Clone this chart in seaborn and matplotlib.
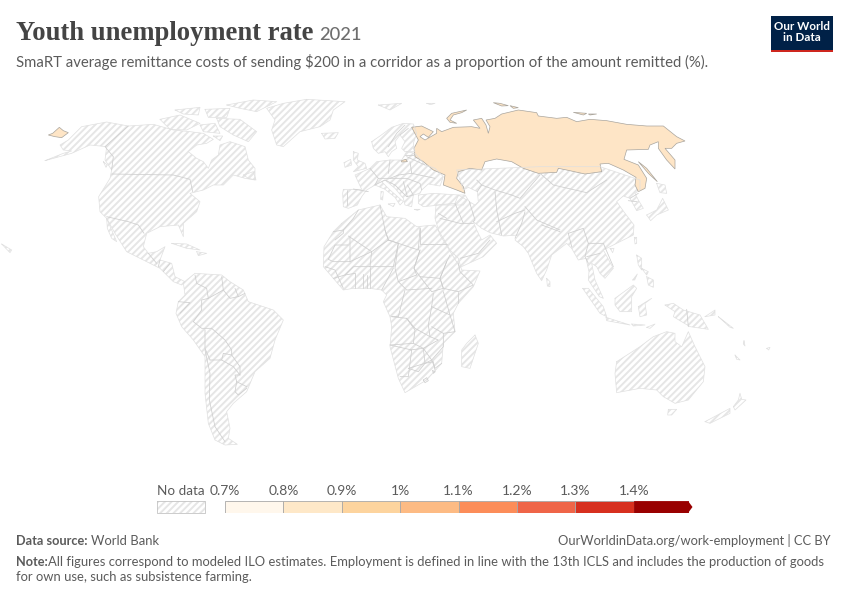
import matplotlib
matplotlib.use("Agg")
import matplotlib.pyplot as plt
import seaborn as sns

# legend scale (last edge is where the open-ended bin's body stops, before its arrow tip)
bin_edges = [0.7, 0.8, 0.9, 1.0, 1.1, 1.2, 1.3, 1.4, 1.493]
bin_colors = ["#fff7ec", "#fee8c8", "#fdd49e", "#fdbb84", "#fc8d59", "#ef6548", "#d7301f", "#990000"]
tick_labels = ["0.7%", "0.8%", "0.9%", "1%", "1.1%", "1.2%", "1.3%", "1.4%"]

ORIGIN_NA = (0, 90)
north_america = [(135, 212), (190, 190), (215, 183), (190, 180), (180, 165), (205, 150), (225, 130), (245, 110),
                 (320, 96), (385, 108), (460, 103), (520, 120), (570, 125), (610, 130), (640, 148), (620, 160),
                 (590, 165), (565, 185), (590, 205), (610, 215), (625, 235), (635, 210), (655, 195), (660, 165),
                 (690, 155), (735, 170), (745, 210), (765, 235), (765, 270), (735, 265), (700, 255), (670, 285),
                 (640, 285), (610, 300), (570, 310), (600, 335), (590, 365), (550, 400), (550, 440), (535, 405),
                 (480, 410), (440, 430), (430, 470), (445, 490), (470, 485), (495, 470), (480, 510), (515, 520),
                 (525, 560), (555, 575), (545, 585), (520, 575), (480, 535), (440, 515), (380, 485), (345, 430),
                 (320, 385), (300, 365), (296, 320), (330, 265), (335, 240), (315, 210), (320, 170), (270, 165),
                 (215, 190)]
baja = [(320, 385), (335, 420), (350, 455), (335, 445), (322, 415)]
greenland = [(920, 28), (1035, 35), (1000, 60), (990, 90), (960, 110), (900, 125), (850, 170), (830, 165),
             (815, 120), (825, 90), (800, 55), (850, 40)]
ellesmere = [(680, 45), (760, 30), (830, 35), (790, 55), (770, 65), (720, 55)]
baffin = [(650, 85), (720, 88), (770, 125), (745, 155), (700, 135), (660, 110)]
victoria = [(480, 88), (540, 75), (600, 100), (560, 120), (510, 118)]
banks = [(525, 60), (600, 52), (595, 75), (550, 72)]
devon = [(615, 58), (690, 55), (680, 82), (625, 82)]
somerset = [(600, 105), (645, 100), (660, 130), (610, 125)]
southampton = [(640, 138), (668, 138), (660, 152)]
newfoundland = [(730, 255), (760, 245), (768, 270), (745, 265)]
iceland = [(965, 130), (1015, 128), (1005, 145), (975, 147)]
svalbard = [(1135, 45), (1205, 40), (1170, 60)]
cuba = [(515, 460), (560, 462), (600, 480), (560, 475)]
hispaniola = [(590, 485), (620, 490), (595, 497)]
vancouver = [(310, 215), (322, 225), (318, 232)]
hawaii = [(5, 462), (35, 480), (30, 488)]
na_borders = [
    [(335, 252), (520, 255), (570, 268), (578, 305)],
    [(385, 108), (315, 170), (340, 200), (335, 240)],
    [(320, 380), (385, 395), (415, 405), (432, 430)],
    [(445, 490), (470, 520)], [(480, 510), (475, 530)], [(510, 520), (490, 545)],
]
chukotka_tip = [(145, 135), (158, 130), (178, 112), (190, 122), (205, 128), (185, 143), (165, 140)]
kaliningrad_z1 = [(1203, 212), (1218, 208), (1222, 215), (1205, 216)]

ORIGIN_SA = (150, 260)
south_america = [(100, 68), (135, 40), (215, 45), (240, 65), (280, 90), (295, 125), (370, 150), (400, 180),
                 (375, 240), (360, 295), (315, 335), (290, 395), (250, 430), (230, 455), (240, 505), (235, 535),
                 (262, 553), (225, 555), (195, 540), (175, 490), (165, 400), (165, 290), (130, 240), (95, 200),
                 (78, 160), (85, 125), (105, 105)]
sa_borders = [
    [(135, 45), (140, 70), (170, 85), (175, 115), (155, 120), (155, 150)],
    [(85, 125), (120, 128), (90, 160)],
    [(155, 150), (130, 185), (155, 205), (185, 205), (225, 240), (245, 270), (245, 285), (270, 320), (270, 345),
     (255, 345), (260, 365), (290, 380)],
    [(215, 50), (220, 90), (175, 115)],
    [(220, 90), (240, 115), (265, 110), (255, 85)], [(265, 110), (285, 100)],
    [(165, 210), (165, 265), (180, 300)],
    [(180, 300), (215, 300), (220, 280), (245, 285)],
    [(215, 300), (250, 320), (270, 345)],
    [(165, 270), (180, 340), (178, 420), (195, 500), (225, 545)],
    [(260, 365), (255, 395), (265, 405), (290, 385)],
]

ORIGIN_EU = (320, 110)
scandinavia = [(155, 95), (180, 78), (215, 52), (250, 40), (280, 42), (290, 70), (280, 100), (285, 125), (255, 125),
               (245, 115), (255, 95), (240, 75), (225, 95), (230, 115), (215, 125), (205, 140), (195, 125),
               (175, 130), (160, 115)]
great_britain = [(100, 125), (115, 130), (112, 150), (135, 160), (140, 175), (100, 185), (115, 170), (100, 150)]
ireland = [(72, 158), (92, 148), (95, 165), (75, 172)]
europe = [(70, 238), (125, 238), (105, 195), (150, 175), (170, 155), (210, 150), (245, 150), (260, 125), (285, 130),
          (315, 165), (345, 175), (370, 200), (360, 228), (325, 222), (305, 240), (300, 250), (280, 255), (275, 290),
          (255, 285), (250, 265), (225, 235), (195, 210), (185, 215), (210, 240), (250, 275), (240, 285), (225, 262),
          (195, 238), (165, 225), (140, 240), (125, 260), (112, 285), (85, 295), (70, 290), (68, 250)]
turkey = [(295, 255), (340, 250), (415, 255), (440, 270), (430, 285), (360, 285), (310, 290), (295, 280)]
sicily = [(205, 282), (225, 280), (220, 290)]
sardinia = [(183, 245), (190, 245), (188, 270), (182, 268)]
crete = [(283, 298), (300, 298), (292, 301)]
eu_borders = [
    [(100, 237), (145, 245)], [(80, 240), (80, 285)],
    [(150, 175), (175, 205), (165, 225)], [(165, 225), (195, 210), (225, 225)],
    [(210, 150), (205, 190)], [(175, 205), (210, 205), (235, 195)],
    [(270, 155), (275, 190), (235, 195)], [(275, 190), (345, 205)],
    [(260, 140), (315, 165)], [(210, 205), (260, 205), (300, 220), (305, 240)],
    [(225, 225), (260, 260), (280, 255), (262, 225)], [(250, 215), (262, 260)],
    [(255, 135), (285, 135)], [(205, 110), (230, 70), (255, 45)], [(240, 75), (265, 55)],
]

ORIGIN_AF = (310, 200)
africa = [(95, 70), (145, 30), (210, 15), (230, 50), (285, 55), (320, 80), (375, 75), (400, 115), (420, 150),
          (445, 175), (455, 210), (510, 213), (490, 260), (445, 310), (430, 340), (435, 395), (400, 430), (395, 490),
          (350, 540), (285, 578), (265, 535), (240, 440), (245, 380), (240, 350), (220, 305), (230, 285), (215, 270),
          (180, 265), (130, 265), (100, 270), (70, 235), (40, 200), (42, 140), (70, 95)]
madagascar = [(495, 405), (505, 430), (480, 505), (455, 500), (455, 450), (470, 430)]
af_borders = [
    [(145, 30), (130, 55), (100, 90), (70, 95)], [(100, 90), (100, 100), (75, 120)],
    [(120, 110), (120, 185), (70, 185), (55, 178), (75, 135), (115, 135)],
    [(210, 15), (225, 90), (235, 120)], [(115, 108), (185, 155), (235, 120)],
    [(120, 185), (185, 155), (180, 200), (130, 200), (105, 225)],
    [(180, 200), (250, 200), (265, 130), (235, 120)],
    [(225, 90), (235, 120), (265, 130), (325, 150), (330, 85)], [(330, 85), (330, 132), (410, 132)],
    [(265, 130), (255, 205), (265, 245), (320, 225), (312, 205), (330, 150)],
    [(330, 150), (312, 205), (330, 230), (390, 235), (410, 185), (420, 165)],
    [(330, 230), (365, 275), (400, 265), (390, 235)],
    [(410, 185), (390, 235), (400, 265), (445, 275), (490, 255), (450, 215), (445, 190)],
    [(265, 245), (290, 270), (365, 265)], [(250, 205), (215, 270)], [(180, 200), (180, 265)],
    [(135, 220), (135, 265)], [(160, 222), (160, 265)], [(170, 225), (170, 265)],
    [(45, 200), (75, 210), (100, 265)], [(70, 235), (105, 225), (135, 220)],
    [(445, 275), (445, 310)], [(400, 275), (420, 345)],
    [(365, 320), (420, 345), (435, 395), (400, 400), (365, 380)],
    [(285, 270), (265, 350), (245, 350)], [(290, 355), (315, 385), (360, 410), (355, 375), (365, 320), (370, 280)],
    [(245, 350), (290, 355), (315, 390), (310, 430), (240, 435)], [(310, 430), (340, 445), (385, 420), (360, 410)],
    [(400, 400), (400, 440), (365, 480), (375, 505), (395, 490)], [(340, 445), (365, 480), (345, 490)],
    [(240, 435), (305, 450), (295, 530), (270, 530)], [(300, 450), (340, 445), (345, 490), (295, 505)],
    [(295, 505), (325, 515), (345, 490), (370, 485), (375, 510)],
    [(340, 540), (350, 533), (355, 542), (345, 548), (340, 540)], [(368, 512), (376, 515), (370, 520), (368, 512)],
]

ORIGIN_AS = (440, 160)
asia = [(-12, 135), (45, 130), (55, 105), (75, 105), (88, 125), (105, 135), (115, 125), (112, 95), (85, 82), (70, 90),
        (50, 30), (300, 20), (480, 20), (600, 60), (600, 90), (585, 100), (595, 120), (610, 145), (590, 152),
        (570, 115), (550, 108), (530, 125), (555, 160), (582, 195), (580, 225), (520, 255), (490, 270), (520, 325),
        (495, 355), (480, 340), (470, 320), (455, 310), (465, 360), (490, 415), (478, 410), (445, 360), (447, 335),
        (438, 295), (415, 300), (395, 265), (380, 250), (335, 285), (320, 330), (305, 362), (290, 340), (265, 280),
        (250, 260), (225, 240), (235, 225), (190, 228), (150, 218), (125, 205), (100, 185), (110, 210), (125, 240),
        (150, 225), (170, 250), (130, 290), (60, 322), (40, 290), (0, 225), (-15, 175)]
hokkaido = [(650, 70), (675, 75), (680, 100), (660, 98), (655, 85)]
honshu = [(620, 165), (650, 150), (668, 115), (685, 150), (650, 165), (632, 182)]
taiwan = [(583, 232), (590, 232), (590, 250), (585, 252)]
hainan = [(510, 265), (522, 265), (518, 278)]
sri_lanka = [(320, 355), (330, 365), (330, 380), (322, 378)]
as_borders = [
    [(88, 125), (105, 180), (100, 185)], [(112, 95), (125, 75), (165, 90), (215, 105)],
    [(165, 95), (170, 150), (185, 225)], [(170, 185), (225, 160), (255, 150)],
    [(255, 155), (245, 190), (225, 235)], [(300, 45), (270, 80), (240, 115), (215, 105)],
    [(255, 140), (290, 180), (360, 210)], [(305, 195), (360, 215)],
    [(300, 40), (340, 75), (440, 98), (500, 60)], [(125, 75), (110, 60)],
    [(395, 260), (385, 220), (430, 205), (445, 250), (435, 290), (445, 310)],
    [(445, 250), (490, 250), (520, 320)], [(480, 280), (440, 290)],
    [(0, 175), (60, 190), (100, 190)], [(60, 295), (115, 280), (150, 240)],
    [(45, 130), (70, 190)], [(-5, 160), (20, 175)], [(570, 115), (595, 100)], [(565, 122), (590, 125)],
]

ORIGIN_OC = (440, 200)
luzon = [(590, 165), (605, 175), (605, 210), (595, 195)]
visayas = [(605, 205), (625, 215), (620, 225)]
mindanao = [(620, 230), (640, 240), (640, 262), (625, 255)]
palawan = [(578, 240), (592, 222), (584, 240)]
borneo = [(525, 295), (580, 255), (590, 265), (575, 290), (575, 335), (540, 335), (525, 315)]
sumatra = [(428, 265), (445, 265), (490, 320), (500, 350), (480, 340)]
java = [(498, 352), (570, 375), (500, 362)]
sunda = [(575, 372), (615, 375), (580, 378)]
timor = [(620, 382), (645, 372), (630, 385)]
sulawesi = [(595, 320), (635, 295), (615, 310), (620, 345), (600, 350)]
new_guinea = [(675, 315), (700, 310), (730, 330), (780, 345), (805, 388), (750, 380), (700, 350), (705, 335)]
new_britain = [(795, 350), (825, 330), (825, 345)]
solomons = [(835, 350), (880, 385), (870, 382)]
australia = [(530, 485), (600, 440), (640, 410), (680, 395), (705, 400), (705, 425), (725, 440), (745, 395), (765, 440),
             (795, 500), (790, 545), (745, 600), (705, 610), (670, 590), (650, 570), (600, 565), (530, 578), (525, 520)]
tasmania = [(685, 628), (710, 628), (695, 645), (683, 645)]
nz_south = [(795, 665), (870, 625), (870, 640), (810, 670)]
nz_north = [(880, 620), (895, 600), (900, 580), (905, 598), (918, 600), (885, 630)]
new_caledonia = [(885, 465), (900, 480), (890, 478)]
vanuatu = [(912, 422), (915, 438), (910, 432)]
fiji = [(980, 445), (990, 442), (986, 450)]
oc_borders = [[(740, 328), (745, 380)]]

ORIGIN_RU = (400, 90)
russia = [(35, 112), (65, 108), (100, 125), (85, 142), (70, 132), (60, 140), (75, 150), (110, 130), (110, 115), (125, 125),
          (160, 112), (215, 110), (240, 115), (220, 90), (245, 85), (258, 105), (265, 130), (270, 110), (258, 90),
          (285, 85), (305, 72), (355, 60), (410, 68), (415, 78), (470, 85), (500, 82), (530, 95), (570, 88), (620, 92),
          (680, 103), (740, 108), (790, 108), (830, 140), (855, 153), (830, 160), (815, 175), (795, 175), (825, 210),
          (825, 237), (800, 210), (775, 175), (775, 155), (750, 165), (745, 178), (680, 180), (672, 208), (715, 225),
          (740, 265), (735, 295), (715, 305), (705, 285), (708, 262), (670, 240), (625, 220), (600, 222), (605, 245),
          (555, 252), (500, 240), (475, 235), (470, 247), (415, 250), (370, 235), (335, 215), (290, 207), (255, 215),
          (245, 240), (210, 235), (175, 245), (170, 265), (190, 290), (195, 310), (170, 300), (130, 285), (135, 255),
          (100, 240), (70, 215), (45, 200), (42, 175), (55, 150)]
novaya_zemlya = [(140, 85), (155, 70), (200, 60), (185, 68), (160, 75), (150, 90), (170, 100), (150, 97)]
severnaya = [(280, 38), (300, 40), (325, 47), (305, 48)]
taymyr_isle = [(330, 47), (355, 53), (340, 55)]
new_siberia = [(520, 67), (560, 70), (550, 75)]
new_siberia2 = [(565, 72), (590, 72), (570, 75)]
sakhalin = [(715, 215), (740, 235), (772, 275), (745, 250)]
franz_josef = [(80, 40), (105, 40), (92, 44)]

no_data_groups = [
    (ORIGIN_NA, [north_america, baja, greenland, ellesmere, baffin, victoria, banks, devon, somerset, southampton,
                 newfoundland, iceland, svalbard, cuba, hispaniola, vancouver, hawaii]),
    (ORIGIN_SA, [south_america]),
    (ORIGIN_EU, [scandinavia, great_britain, ireland, europe, turkey, sicily, sardinia, crete]),
    (ORIGIN_AF, [africa, madagascar]),
    (ORIGIN_AS, [asia, hokkaido, honshu, taiwan, hainan, sri_lanka]),
    (ORIGIN_OC, [luzon, visayas, mindanao, palawan, borneo, sumatra, java, sunda, timor, sulawesi, new_guinea,
                 new_britain, solomons, australia, tasmania, nz_south, nz_north, new_caledonia, vanuatu, fiji]),
    (ORIGIN_RU, [franz_josef]),
]
border_groups = [(ORIGIN_NA, na_borders), (ORIGIN_SA, sa_borders), (ORIGIN_EU, eu_borders),
                 (ORIGIN_AF, af_borders), (ORIGIN_AS, as_borders), (ORIGIN_OC, oc_borders)]
data_groups = [
    (ORIGIN_RU, [russia, novaya_zemlya, severnaya, taymyr_isle, new_siberia, new_siberia2, sakhalin]),
    (ORIGIN_NA, [chukotka_tip, kaliningrad_z1]),
]

TEXT = "#5b5b5b"
W, H = 850, 600
HATCH = "/////"


def to_px(points, origin):
    """crop coordinates -> picture pixels"""
    return [origin[0] + p[0] / 3 for p in points], [origin[1] + p[1] / 3 for p in points]


sns.set_theme(style="white")
plt.rcParams["font.family"] = ["Lato", "DejaVu Sans"]
plt.rcParams["hatch.linewidth"] = 1.4

fig = plt.figure(figsize=(W / 100, H / 100), dpi=100)
ax = fig.add_axes([0, 0, 1, 1])
ax.set_xlim(0, W)
ax.set_ylim(H, 0)
ax.axis("off")

# map
for origin, shapes in no_data_groups:
    for shape in shapes:
        xs, ys = to_px(shape, origin)
        ax.fill(xs, ys, facecolor="none", edgecolor="#e6e6e6", hatch=HATCH, linewidth=0)
for origin, shapes in no_data_groups:
    for shape in shapes:
        xs, ys = to_px(shape + shape[:1], origin)
        ax.plot(xs, ys, color="#e0e0e0", lw=0.5)
for origin, lines in border_groups:
    for line in lines:
        xs, ys = to_px(line, origin)
        ax.plot(xs, ys, color="#cfcfcf", lw=0.55)
for origin, shapes in data_groups:
    for shape in shapes:
        xs, ys = to_px(shape, origin)
        ax.fill(xs, ys, facecolor="#fee5c6", edgecolor="#a9a59e", linewidth=0.5)

# header
ax.text(16, 40, "Youth unemployment rate", family="Liberation Serif", weight="bold", fontsize=19.2, color="#444444")
ax.text(319, 40, "2021", fontsize=13.2, color="#6e6e6e", weight="medium")
ax.text(16, 66.5, "SmaRT average remittance costs of sending $200 in a corridor as a proportion of the amount remitted (%).",
        fontsize=10.68, color=TEXT)

# logo
ax.fill([771, 833, 833, 771], [16, 16, 50, 50], color="#002147", lw=0)
ax.fill([771, 833, 833, 771], [49.5, 49.5, 52, 52], color="#ce261e", lw=0)
ax.text(802, 32, "Our World\nin Data", color="white", weight="bold", fontsize=8.4, ha="center", va="center", linespacing=1.05)

# legend: no data box
ax.fill([157, 205, 205, 157], [501, 501, 513, 513], facecolor="none", edgecolor="#e6e6e6", hatch=HATCH, lw=0)
ax.plot([157, 205, 205, 157, 157], [501, 501, 513, 513, 501], color="#c4c4c4", lw=0.6)
ax.text(181, 495, "No data", fontsize=9.7, color=TEXT, ha="center")

# legend: colour bins
bar_left, bar_right = 225, 692.2
leg = fig.add_axes([bar_left / W, 1 - 513 / H, (bar_right - bar_left) / W, 12 / H])
for left, right, colour in zip(bin_edges[:-1], bin_edges[1:], bin_colors):
    sns.barplot(x=[right - left], y=["scale"], left=left, color=colour, saturation=1, width=1,
                edgecolor="#a8a8a8", linewidth=0.6, ax=leg)
leg.patches[-1].set_edgecolor(bin_colors[-1])
leg.set_xlim(0.7, 1.5)
leg.set_ylim(0.5, -0.5)
leg.set_xlabel("")
leg.set_ylabel("")
leg.set_yticks([])
leg.xaxis.tick_top()
leg.set_xticks(bin_edges[:-1], tick_labels, fontsize=10, color=TEXT)
leg.tick_params(axis="x", length=0, pad=3)
leg.patch.set_alpha(0)
sns.despine(ax=leg, left=True, bottom=True, top=True, right=True)
ax.fill([688, 692.5, 688], [501, 507, 513], color=bin_colors[-1], lw=0)

# footer
ax.text(16, 545, "Data source:", fontsize=9.2, weight="bold", color=TEXT)
ax.text(91.5, 545, "World Bank", fontsize=9.35, color=TEXT)
ax.text(831, 545, "OurWorldinData.org/work-employment | CC BY", fontsize=9.3, color=TEXT, ha="right")
ax.text(16, 566, "Note:", fontsize=9.2, weight="bold", color=TEXT)
ax.text(48.5, 566, "All figures correspond to modeled ILO estimates. Employment is defined in line with the 13th ICLS and includes the production of goods",
        fontsize=9.34, color=TEXT)
ax.text(16, 581, "for own use, such as subsistence farming.", fontsize=9.34, color=TEXT)

fig.savefig("out.png", dpi=100)
